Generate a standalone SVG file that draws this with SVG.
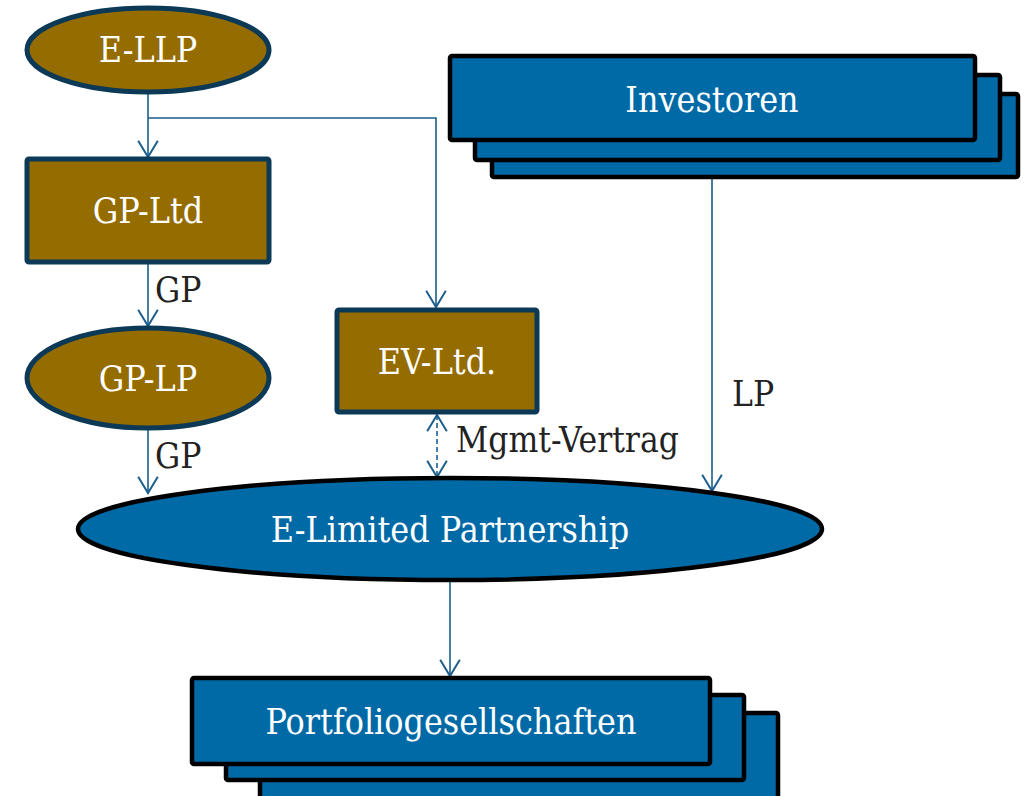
<svg xmlns="http://www.w3.org/2000/svg" width="1025" height="796" viewBox="0 0 1025 796">
  <defs>
    <style>
      .brown { fill: #956C00; stroke: #0B3956; stroke-width: 5; }
      .blue { fill: #006AA6; stroke: #000000; stroke-width: 4.5; }
      .node-text { font-family: "DejaVu Serif", "Liberation Serif", serif; font-stretch: condensed; font-size: 35.5px; fill: #FFFFFF; text-anchor: middle; }
      .label { font-family: "DejaVu Serif", "Liberation Serif", serif; font-stretch: condensed; font-size: 35px; fill: #222222; }
      .conn { fill: none; stroke: #1B5E8C; stroke-width: 1.6; }
      .dashed { stroke-dasharray: 5 3; }
    </style>
    <marker id="arrow" markerUnits="userSpaceOnUse" markerWidth="20" markerHeight="24" viewBox="-16 -11 18 22" refX="0" refY="0" orient="auto-start-reverse">
      <path d="M-15,-9 L0,0 L-15,9" fill="none" stroke="#1B5E8C" stroke-width="1.8"/>
    </marker>
  </defs>

  <!-- connectors -->
  <g id="connectors">
    <path class="conn" d="M148,93 V157" marker-end="url(#arrow)"/>
    <path class="conn" d="M148,118 H436 V307" marker-end="url(#arrow)"/>
    <path class="conn" d="M148,263 V326" marker-end="url(#arrow)"/>
    <path class="conn" d="M148,428 V493" marker-end="url(#arrow)"/>
    <path class="conn dashed" d="M437,415 V477" marker-start="url(#arrow)" marker-end="url(#arrow)"/>
    <path class="conn" d="M712,178 V491" marker-end="url(#arrow)"/>
    <path class="conn" d="M450,580 V676" marker-end="url(#arrow)"/>
    <text class="label" x="155" y="302">GP</text>
    <text class="label" x="155" y="468">GP</text>
    <text class="label" x="732" y="406">LP</text>
    <text class="label" x="456" y="452">Mgmt-Vertrag</text>
  </g>

  <g id="e-llp">
    <ellipse class="brown" cx="148" cy="50" rx="121" ry="42"/>
    <text class="node-text" x="148" y="62">E-LLP</text>
  </g>

  <g id="gp-ltd">
    <rect class="brown" x="27" y="159" width="242" height="103" rx="2"/>
    <text class="node-text" x="148" y="223">GP-Ltd</text>
  </g>

  <g id="gp-lp">
    <ellipse class="brown" cx="148" cy="378" rx="121" ry="50"/>
    <text class="node-text" x="148" y="391">GP-LP</text>
  </g>

  <g id="ev-ltd">
    <rect class="brown" x="337" y="310" width="200" height="102" rx="2"/>
    <text class="node-text" x="437" y="374">EV-Ltd.</text>
  </g>

  <g id="investoren">
    <rect class="blue" x="492" y="94" width="526" height="83" rx="2"/>
    <rect class="blue" x="475" y="75" width="525" height="85" rx="2"/>
    <rect class="blue" x="450" y="56" width="525" height="84" rx="2"/>
    <text class="node-text" x="712" y="112">Investoren</text>
  </g>

  <g id="e-limited-partnership">
    <ellipse class="blue" cx="450" cy="529" rx="372" ry="51"/>
    <text class="node-text" x="450" y="542">E-Limited Partnership</text>
  </g>

  <g id="portfoliogesellschaften">
    <rect class="blue" x="260" y="713" width="518" height="90" rx="2"/>
    <rect class="blue" x="226" y="695" width="518" height="85" rx="2"/>
    <rect class="blue" x="192" y="678" width="518" height="86" rx="2"/>
    <text class="node-text" x="451" y="734">Portfoliogesellschaften</text>
  </g>
</svg>
